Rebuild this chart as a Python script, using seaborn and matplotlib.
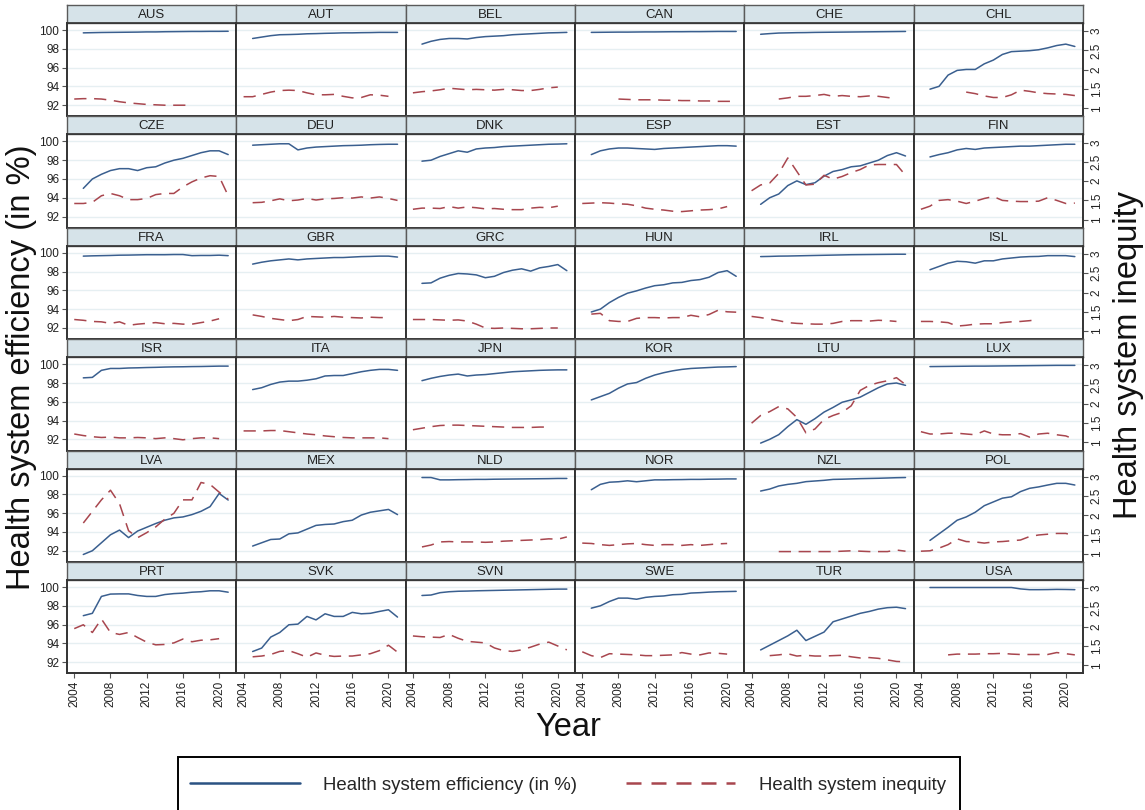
import numpy as np
import pandas as pd
import seaborn as sns
import matplotlib.pyplot as plt
from matplotlib.lines import Line2D
from matplotlib.patches import Rectangle

# years covered by every series (None = no observation)
years = list(range(2004, 2022))

countries = ["AUS", "AUT", "BEL", "CAN", "CHE", "CHL",
             "CZE", "DEU", "DNK", "ESP", "EST", "FIN",
             "FRA", "GBR", "GRC", "HUN", "IRL", "ISL",
             "ISR", "ITA", "JPN", "KOR", "LTU", "LUX",
             "LVA", "MEX", "NLD", "NOR", "NZL", "POL",
             "PRT", "SVK", "SVN", "SWE", "TUR", "USA"]

AUS_eff = [None, 99.70, 99.72, 99.74, 99.75, 99.76, 99.77, 99.78, 99.80, 99.80, 99.82, 99.83, 99.84, 99.85, 99.85, 99.86, 99.86, 99.87]
AUS_ineq = [1.24, 1.25, 1.25, 1.24, 1.21, 1.17, 1.14, 1.12, 1.10, 1.09, 1.08, 1.08, 1.08, 1.08, None, None, None, None]
AUT_eff = [None, 99.10, 99.25, 99.40, 99.50, 99.52, 99.55, 99.60, 99.62, 99.65, 99.67, 99.70, 99.70, 99.72, 99.73, 99.75, 99.75, 99.75]
AUT_ineq = [1.30, 1.30, 1.36, 1.42, 1.46, 1.47, 1.46, 1.40, 1.35, 1.35, 1.36, 1.31, 1.27, 1.28, 1.35, 1.34, 1.31, None]
BEL_eff = [None, 98.50, 98.80, 99.00, 99.10, 99.10, 99.05, 99.20, 99.30, 99.35, 99.40, 99.50, 99.55, 99.60, 99.65, 99.70, 99.72, 99.75]
BEL_ineq = [1.40, 1.43, 1.45, 1.48, 1.52, 1.50, 1.48, 1.49, 1.48, 1.47, 1.49, 1.48, 1.46, 1.46, 1.49, 1.53, 1.55, None]
CAN_eff = [None, 99.75, 99.76, 99.77, 99.78, 99.78, 99.79, 99.80, 99.80, 99.81, 99.82, 99.82, 99.83, 99.83, 99.84, 99.85, 99.85, 99.85]
CAN_ineq = [None, None, None, None, 1.24, 1.23, 1.22, 1.22, 1.22, 1.21, 1.21, 1.20, 1.20, 1.19, 1.19, 1.18, 1.18, 1.18]
CHE_eff = [None, 99.55, 99.62, 99.68, 99.70, 99.72, 99.73, 99.75, 99.76, 99.77, 99.78, 99.79, 99.80, 99.81, 99.82, 99.83, 99.84, 99.85]
CHE_ineq = [None, None, None, 1.24, 1.27, 1.31, 1.31, 1.33, 1.36, 1.31, 1.33, 1.31, 1.30, 1.32, 1.31, 1.28, 1.25, None]
CHL_eff = [None, 93.7, 94.0, 95.2, 95.7, 95.8, 95.8, 96.4, 96.8, 97.4, 97.7, 97.75, 97.8, 97.9, 98.1, 98.35, 98.5, 98.25]
CHL_ineq = [None, None, None, None, None, 1.42, 1.38, 1.32, 1.28, 1.28, 1.35, 1.47, 1.44, 1.40, 1.38, 1.37, 1.36, 1.33]
CZE_eff = [None, 95.0, 96.0, 96.5, 96.9, 97.1, 97.1, 96.9, 97.2, 97.3, 97.7, 98.0, 98.2, 98.5, 98.8, 99.0, 99.0, 98.6]
CZE_ineq = [1.42, 1.42, 1.45, 1.62, 1.68, 1.62, 1.52, 1.52, 1.55, 1.65, 1.68, 1.68, 1.85, 1.98, 2.08, 2.14, 2.12, 1.62]
DEU_eff = [None, 99.6, 99.65, 99.7, 99.75, 99.75, 99.1, 99.3, 99.4, 99.45, 99.5, 99.55, 99.57, 99.6, 99.65, 99.68, 99.7, 99.7]
DEU_ineq = [None, 1.44, 1.45, 1.49, 1.54, 1.49, 1.51, 1.55, 1.51, 1.54, 1.55, 1.57, 1.56, 1.59, 1.56, 1.59, 1.55, 1.50]
DNK_eff = [None, 97.9, 98.0, 98.4, 98.7, 99.0, 98.85, 99.2, 99.3, 99.35, 99.45, 99.5, 99.55, 99.6, 99.65, 99.7, 99.72, 99.75]
DNK_ineq = [1.27, 1.30, 1.30, 1.29, 1.34, 1.30, 1.33, 1.31, 1.28, 1.29, 1.27, 1.26, 1.26, 1.30, 1.32, 1.31, 1.35, None]
ESP_eff = [None, 98.6, 99.0, 99.2, 99.3, 99.3, 99.25, 99.2, 99.15, 99.25, 99.3, 99.35, 99.4, 99.45, 99.5, 99.55, 99.55, 99.5]
ESP_ineq = [1.42, 1.43, 1.44, 1.43, 1.41, 1.40, 1.36, 1.30, 1.27, 1.25, 1.22, 1.21, 1.23, 1.25, 1.26, 1.28, 1.34, None]
EST_eff = [None, 93.3, 94.0, 94.4, 95.3, 95.8, 95.4, 95.6, 96.3, 96.8, 97.0, 97.3, 97.4, 97.7, 98.0, 98.5, 98.8, 98.45]
EST_ineq = [1.75, 1.90, 1.95, 2.20, 2.60, 2.25, 1.90, 1.92, 2.15, 2.05, 2.12, 2.22, 2.30, 2.42, 2.43, 2.43, 2.43, 2.15]
FIN_eff = [None, 98.35, 98.6, 98.8, 99.1, 99.25, 99.15, 99.3, 99.35, 99.4, 99.45, 99.5, 99.5, 99.55, 99.6, 99.65, 99.7, 99.7]
FIN_ineq = [1.27, 1.35, 1.50, 1.52, 1.48, 1.42, 1.48, 1.55, 1.60, 1.50, 1.48, 1.47, 1.47, 1.48, 1.57, 1.50, 1.42, 1.43]
FRA_eff = [None, 99.65, 99.68, 99.70, 99.72, 99.75, 99.76, 99.78, 99.80, 99.80, 99.80, 99.82, 99.82, 99.70, 99.72, 99.72, 99.75, 99.70]
FRA_ineq = [1.30, 1.28, 1.25, 1.24, 1.20, 1.24, 1.15, 1.18, 1.20, 1.22, 1.19, 1.20, 1.18, 1.18, 1.22, 1.26, 1.32, None]
GBR_eff = [None, 98.8, 99.0, 99.15, 99.25, 99.35, 99.25, 99.35, 99.4, 99.45, 99.5, 99.5, 99.55, 99.6, 99.62, 99.65, 99.65, 99.55]
GBR_ineq = [None, 1.42, 1.38, 1.33, 1.30, 1.27, 1.30, 1.38, 1.37, 1.36, 1.38, 1.36, 1.35, 1.34, 1.36, 1.35, 1.35, None]
GRC_eff = [None, 96.75, 96.8, 97.3, 97.6, 97.8, 97.75, 97.65, 97.35, 97.5, 97.9, 98.15, 98.3, 98.05, 98.4, 98.55, 98.75, 98.1]
GRC_ineq = [1.30, 1.30, 1.30, 1.29, 1.28, 1.29, 1.26, 1.18, 1.08, 1.07, 1.08, 1.07, 1.06, 1.06, 1.07, 1.08, 1.08, None]
HUN_eff = [None, 93.7, 94.0, 94.7, 95.25, 95.7, 95.95, 96.25, 96.5, 96.6, 96.8, 96.85, 97.05, 97.15, 97.4, 97.9, 98.1, 97.5]
HUN_ineq = [None, 1.44, 1.46, 1.27, 1.25, 1.25, 1.33, 1.35, 1.35, 1.34, 1.35, 1.35, 1.41, 1.37, 1.43, 1.54, 1.50, 1.49]
IRL_eff = [None, 99.6, 99.62, 99.65, 99.66, 99.68, 99.7, 99.72, 99.74, 99.76, 99.78, 99.8, 99.81, 99.82, 99.83, 99.84, 99.85, 99.85]
IRL_ineq = [1.38, 1.35, 1.31, 1.27, 1.22, 1.20, 1.19, 1.18, 1.18, 1.20, 1.25, 1.27, 1.27, 1.26, 1.28, 1.27, 1.25, None]
ISL_eff = [None, 98.2, 98.55, 98.9, 99.1, 99.05, 98.9, 99.15, 99.15, 99.35, 99.45, 99.55, 99.6, 99.62, 99.7, 99.7, 99.7, 99.6]
ISL_ineq = [1.25, 1.25, 1.24, 1.22, 1.13, 1.15, 1.18, 1.19, 1.19, 1.22, 1.24, 1.25, 1.27, 1.30, None, None, None, None]
ISR_eff = [None, 98.55, 98.6, 99.35, 99.55, 99.55, 99.6, 99.62, 99.65, 99.67, 99.7, 99.72, 99.73, 99.75, 99.76, 99.78, 99.8, 99.8]
ISR_ineq = [1.22, 1.18, 1.15, 1.13, 1.14, 1.12, 1.12, 1.13, 1.12, 1.10, 1.12, 1.10, 1.07, 1.10, 1.12, 1.12, 1.10, None]
ITA_eff = [None, 97.3, 97.5, 97.85, 98.1, 98.2, 98.2, 98.3, 98.45, 98.75, 98.8, 98.8, 99.0, 99.2, 99.35, 99.45, 99.45, 99.35]
ITA_ineq = [1.30, 1.30, 1.30, 1.31, 1.31, 1.28, 1.25, 1.22, 1.20, 1.17, 1.15, 1.13, 1.12, 1.12, 1.12, 1.12, 1.10, None]
JPN_eff = [None, 98.25, 98.5, 98.7, 98.85, 98.95, 98.75, 98.85, 98.9, 99.0, 99.1, 99.2, 99.25, 99.3, 99.35, 99.38, 99.4, 99.4]
JPN_ineq = [1.33, 1.37, 1.41, 1.44, 1.45, 1.45, 1.44, 1.43, 1.42, 1.41, 1.40, 1.39, 1.39, 1.39, 1.40, 1.40, None, None]
KOR_eff = [None, 96.2, 96.55, 96.9, 97.45, 97.9, 98.05, 98.5, 98.85, 99.1, 99.3, 99.45, 99.55, 99.6, 99.65, 99.7, 99.72, 99.75]
KOR_ineq = [None] * 18
LTU_eff = [None, 91.6, 92.0, 92.5, 93.35, 94.1, 93.6, 94.2, 94.9, 95.4, 95.95, 96.2, 96.5, 97.0, 97.5, 97.9, 98.0, 97.75]
LTU_ineq = [1.50, 1.70, 1.80, 1.93, 1.87, 1.65, 1.25, 1.35, 1.60, 1.70, 1.78, 1.95, 2.35, 2.48, 2.55, 2.60, 2.68, 2.50]
LUX_eff = [None, 99.75, 99.76, 99.77, 99.78, 99.79, 99.8, 99.8, 99.81, 99.82, 99.83, 99.84, 99.85, 99.86, 99.87, 99.88, 99.88, 99.88]
LUX_ineq = [1.28, 1.22, 1.22, 1.24, 1.24, 1.22, 1.20, 1.30, 1.22, 1.20, 1.20, 1.23, 1.14, 1.22, 1.24, 1.20, 1.17, 1.08]
LVA_eff = [None, 91.6, 92.0, 92.85, 93.7, 94.2, 93.4, 94.1, 94.5, 94.9, 95.25, 95.5, 95.6, 95.85, 96.2, 96.7, 98.1, 97.4]
LVA_ineq = [None, 1.80, 2.10, 2.40, 2.65, 2.30, 1.60, 1.42, 1.55, 1.70, 1.90, 2.05, 2.40, 2.40, 2.85, 2.80, 2.60, 2.42]
MEX_eff = [None, 92.5, 92.85, 93.2, 93.25, 93.8, 93.9, 94.3, 94.7, 94.8, 94.85, 95.1, 95.25, 95.8, 96.1, 96.25, 96.4, 95.85]
MEX_ineq = [None] * 18
NLD_eff = [None, 99.8, 99.8, 99.55, 99.55, 99.57, 99.58, 99.6, 99.6, 99.62, 99.63, 99.64, 99.65, 99.66, 99.67, 99.68, 99.7, 99.7]
NLD_ineq = [None, 1.18, 1.23, 1.31, 1.32, 1.31, 1.31, 1.31, 1.30, 1.31, 1.33, 1.34, 1.35, 1.36, 1.37, 1.39, 1.38, 1.44]
NOR_eff = [None, 98.5, 99.07, 99.3, 99.35, 99.45, 99.35, 99.45, 99.55, 99.55, 99.57, 99.58, 99.6, 99.6, 99.62, 99.63, 99.65, 99.65]
NOR_ineq = [1.28, 1.27, 1.24, 1.22, 1.24, 1.26, 1.27, 1.24, 1.22, 1.24, 1.24, 1.22, 1.24, 1.22, 1.24, 1.26, 1.27, None]
NZL_eff = [None, 98.36, 98.57, 98.9, 99.07, 99.18, 99.36, 99.43, 99.5, 99.6, 99.62, 99.65, 99.68, 99.7, 99.72, 99.75, 99.78, 99.8]
NZL_ineq = [None, None, None, 1.06, 1.06, 1.06, 1.06, 1.06, 1.06, 1.06, 1.07, 1.08, 1.07, 1.06, 1.06, 1.06, 1.10, 1.07]
POL_eff = [None, 93.1, 93.8, 94.5, 95.25, 95.6, 96.1, 96.8, 97.2, 97.6, 97.75, 98.3, 98.65, 98.8, 99.0, 99.18, 99.18, 99.0]
POL_ineq = [1.07, 1.08, 1.15, 1.24, 1.39, 1.32, 1.31, 1.28, 1.31, 1.32, 1.34, 1.36, 1.45, 1.49, 1.51, 1.53, 1.53, 1.47]
PRT_eff = [None, 96.95, 97.2, 99.0, 99.25, 99.27, 99.27, 99.1, 99.0, 99.0, 99.2, 99.3, 99.35, 99.45, 99.5, 99.6, 99.6, 99.45]
PRT_ineq = [1.95, 2.05, 1.85, 2.20, 1.85, 1.80, 1.85, 1.72, 1.60, 1.53, 1.54, 1.58, 1.68, 1.61, 1.65, 1.66, 1.69, None]
SVK_eff = [None, 93.13, 93.5, 94.67, 95.16, 95.98, 96.05, 96.87, 96.5, 97.15, 96.87, 96.87, 97.3, 97.15, 97.2, 97.4, 97.58, 96.8]
SVK_ineq = [None, 1.22, 1.24, 1.28, 1.36, 1.38, 1.30, 1.21, 1.32, 1.26, 1.23, 1.24, 1.24, 1.27, 1.30, 1.38, 1.52, 1.34]
SVN_eff = [None, 99.1, 99.15, 99.4, 99.5, 99.55, 99.57, 99.6, 99.62, 99.64, 99.66, 99.68, 99.7, 99.72, 99.74, 99.76, 99.78, 99.78]
SVN_ineq = [1.76, 1.74, 1.73, 1.72, 1.80, 1.70, 1.62, 1.60, 1.58, 1.45, 1.38, 1.36, 1.40, 1.47, 1.55, 1.60, 1.50, 1.40]
SWE_eff = [None, 97.75, 98.0, 98.46, 98.82, 98.82, 98.7, 98.9, 99.0, 99.05, 99.18, 99.22, 99.36, 99.4, 99.46, 99.5, 99.52, 99.54]
SWE_ineq = [1.35, 1.25, 1.20, 1.30, 1.29, 1.28, 1.27, 1.25, 1.25, 1.26, 1.27, 1.33, 1.29, 1.27, 1.32, 1.31, 1.29, None]
TUR_eff = [None, 93.3, 93.8, 94.3, 94.8, 95.4, 94.3, 94.75, 95.2, 96.3, 96.6, 96.9, 97.2, 97.4, 97.65, 97.8, 97.85, 97.7]
TUR_ineq = [None, None, 1.25, 1.27, 1.30, 1.24, 1.26, 1.24, 1.24, 1.25, 1.26, 1.22, 1.19, 1.20, 1.18, 1.14, 1.10, 1.09]
USA_eff = [None, 99.95, 99.95, 99.95, 99.95, 99.95, 99.95, 99.95, 99.95, 99.95, 99.95, 99.8, 99.72, 99.72, 99.73, 99.75, 99.74, 99.72]
USA_ineq = [None, None, None, 1.27, 1.29, 1.29, 1.29, 1.30, 1.30, 1.31, 1.29, 1.28, 1.28, 1.28, 1.28, 1.33, 1.30, 1.27]

left_ticks = [92, 94, 96, 98, 100]
right_ticks = [1, 1.5, 2, 2.5, 3]
right_labels = ["1", "1.5", "2", "2.5", "3"]
x_ticks = [2004, 2008, 2012, 2016, 2020]

# long table, one row per country-year
rows = []
for c in countries:
    eff = globals()[c + "_eff"]
    ineq = globals()[c + "_ineq"]
    for y, e, q in zip(years, eff, ineq):
        rows.append({"country": c, "year": y,
                     "eff": np.nan if e is None else e,
                     "ineq": np.nan if q is None else q})
df = pd.DataFrame(rows)

sns.set_theme(style="white")
plt.rcParams['font.family'] = ['Liberation Sans', 'DejaVu Sans']

EFF_COL = "#3a5f8f"
INEQ_COL = "#a8464e"
DASH = (0, (8, 5))

W, H = 1145, 810
fig = plt.figure(figsize=(W / 100, H / 100), dpi=100)

gx0, gx1 = 67, 1083
col_w = (gx1 - gx0) / 6
row_h = 111.4
strip_h = 18
gy0 = 5

for i, c in enumerate(countries):
    r, k = divmod(i, 6)
    x0 = gx0 + k * col_w
    ys = gy0 + r * row_h
    yb = ys + row_h

    ax = fig.add_axes([x0 / W, 1 - yb / H, col_w / W, (row_h - strip_h) / H])
    sax = fig.add_axes([x0 / W, 1 - (ys + strip_h) / H, col_w / W, strip_h / H])
    sax.set_facecolor("#d6e3e9")
    sax.set_xticks([])
    sax.set_yticks([])
    for s in sax.spines.values():
        s.set_color("#5a5a5a")
        s.set_linewidth(1.0)
    sax.text(0.5, 0.45, c, ha="center", va="center", fontsize=9.5,
             color="#222222", transform=sax.transAxes)

    sub = df[df["country"] == c]
    ax.yaxis.grid(True, color="#e6eff2", linewidth=1.0)
    ax.set_axisbelow(True)
    sns.lineplot(data=sub, x="year", y="eff", ax=ax, color=EFF_COL,
                 linewidth=1.1, errorbar=None)
    ax.set_xlim(2003.2, 2021.9)
    ax.set_ylim(90.8, 100.75)
    ax.set_yticks(left_ticks)
    ax.set_xticks(x_ticks)
    ax.set_xlabel("")
    ax.set_ylabel("")

    ax2 = ax.twinx()
    if sub["ineq"].notna().any():
        sns.lineplot(data=sub, x="year", y="ineq", ax=ax2, color=INEQ_COL,
                     linewidth=1.1, linestyle=DASH, errorbar=None)
    ax2.set_ylim(0.79, 3.21)
    ax2.set_yticks(right_ticks)
    ax2.set_ylabel("")
    ax2.set_xlim(2003.2, 2021.9)

    for a in (ax, ax2):
        for s in a.spines.values():
            s.set_color("#333333")
            s.set_linewidth(1.2)

    ax.tick_params(axis="y", left=(k == 0), labelleft=(k == 0), length=3.5,
                   width=0.8, color="#555555", labelsize=8.5, pad=2,
                   labelcolor="#222222")
    ax.tick_params(axis="x", bottom=(r == 5), labelbottom=(r == 5), length=3.5,
                   width=0.8, color="#555555", labelsize=8.5, pad=2,
                   labelcolor="#222222", labelrotation=90)
    if k == 5:
        ax2.set_yticklabels(right_labels)
    ax2.tick_params(axis="y", right=(k == 5), labelright=(k == 5), length=3.5,
                    width=0.8, color="#555555", labelsize=8.5, pad=2,
                    labelcolor="#222222", labelrotation=90)
    if k == 5:
        for t in ax2.get_yticklabels():
            t.set_va("center")

fig.text(22 / W, 1 - 367 / H, "Health system efficiency (in %)", rotation=90,
         ha="center", va="center", fontsize=23.5, color="#111111")
fig.text(1128 / W, 1 - 355 / H, "Health system inequity", rotation=90,
         ha="center", va="center", fontsize=23.5, color="#111111")
fig.text(568 / W, 1 - 728 / H, "Year", ha="center", va="center",
         fontsize=23.5, color="#111111")

# legend: entries plus a box running off the bottom edge
handles = [Line2D([0], [0], color="#2b5283", linewidth=1.8),
           Line2D([0], [0], color=INEQ_COL, linewidth=1.8, linestyle=(0, (6, 4)))]
fig.legend(handles, ["Health system efficiency (in %)", "Health system inequity"],
           loc="center", bbox_to_anchor=(568 / W, 1 - 785 / H), ncol=2,
           frameon=False, fontsize=13.4, handlelength=5.9, handletextpad=1.25,
           columnspacing=2.6)
fig.patches.append(Rectangle((178 / W, -20 / H), (960 - 178) / W, (810 - 757 + 20) / H,
                             transform=fig.transFigure, fill=False,
                             edgecolor="black", linewidth=1.4))

fig.savefig("out.png", dpi=100)
